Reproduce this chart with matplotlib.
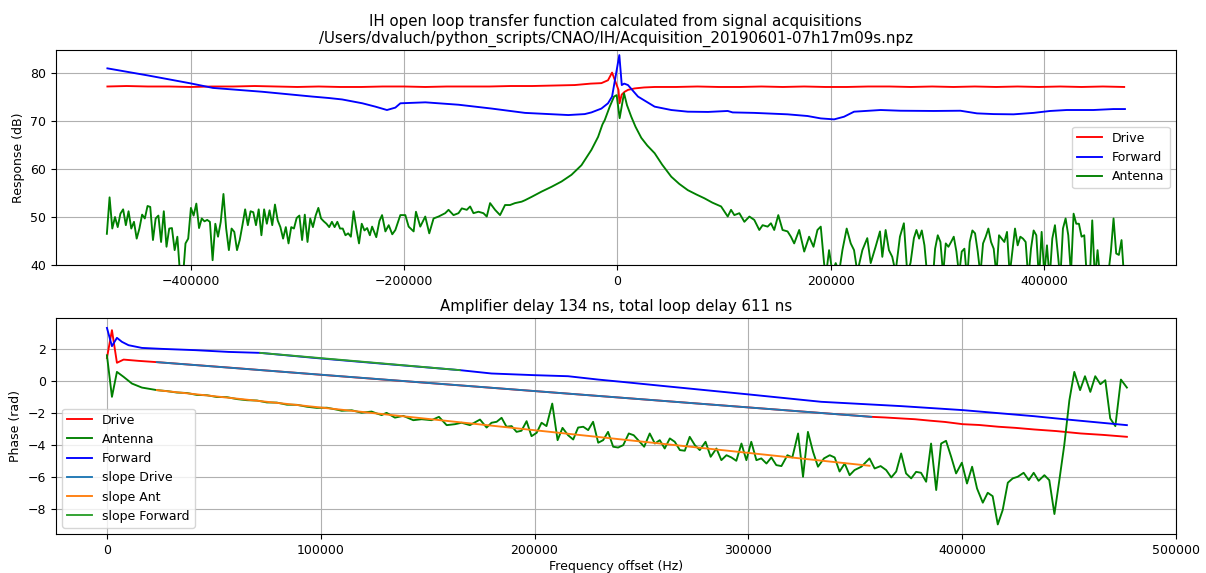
import numpy as np
import matplotlib.pyplot as plt
plt.rcParams['font.size'] = 9
plt.rcParams['axes.titlesize'] = 10.8
plt.rcParams['lines.linewidth'] = 1.35

# ---------------- top panel: response (dB) ----------------
drive_db_f = [-478000, -460000, -440000, -420000, -400000, -380000, -360000, -340000,
              -320000, -300000, -280000, -260000, -240000, -220000, -200000, -180000,
              -160000, -140000, -120000, -100000, -80000, -60000, -40000, -25000,
              -15000, -8800, -5000,
              1000, 2000, 4000, 6800, 10000, 16200, 25000, 35000, 55000, 75000, 95000,
              115000, 135000, 155000, 175000, 195000, 215000, 235000, 255000, 275000,
              295000, 315000, 335000, 355000, 375000, 395000, 415000, 435000, 455000, 475000]
drive_db = [77.2, 77.3, 77.2, 77.2, 77.1, 77.2, 77.2, 77.3,
            77.2, 77.1, 77.2, 77.1, 77.1, 77.2, 77.2, 77.1,
            77.2, 77.2, 77.2, 77.3, 77.3, 77.4, 77.5, 77.8,
            77.9, 78.5, 80.1,
            76.5, 73.7, 75.5, 76.1, 76.5, 76.8, 77.0, 77.1, 77.1, 77.2, 77.1,
            77.1, 77.2, 77.1, 77.2, 77.1, 77.1, 77.2, 77.2, 77.1,
            77.2, 77.1, 77.2, 77.1, 77.2, 77.1, 77.2, 77.1, 77.2, 77.1]

fwd_db_f = [-478000, -440000, -400000, -379000, -332700, -286000, -270500, -258000,
            -239000, -226800, -216000, -208100, -203400, -180000, -148900, -117800,
            -86600, -46000, -30600, -24300, -15000, -8800, -5000,
            1800, 4100, 6400, 9900, 19300, 34900, 50500, 66000, 85000, 103400, 108000,
            128300, 159500, 178200, 190600, 203100, 212400, 221800, 246700, 265400,
            296600, 321500, 337000, 352600, 371300, 390000, 405600, 421200, 446100,
            464800, 475700]
fwd_db = [80.98, 79.5, 77.85, 76.9, 76.1, 75.1, 74.8, 74.5,
          73.7, 73.0, 72.3, 72.8, 73.7, 73.9, 73.4, 72.6,
          71.7, 71.25, 71.45, 71.8, 72.6, 73.7, 75.1,
          83.75, 77.5, 77.8, 77.5, 75.1, 73.0, 72.3, 71.95, 71.9, 72.1, 71.8,
          71.7, 71.4, 71.05, 70.55, 70.35, 70.9, 71.95, 72.3, 72.15,
          72.1, 72.15, 71.6, 71.45, 71.4, 71.7, 72.1, 72.3, 72.3,
          72.5, 72.5]

# antenna, noisy far-left part (uniform bins)
ant_db_left = [46.5, 54.1, 47.6, 50.0, 47.9, 50.7, 51.6, 48.3, 51.2, 47.6, 49.0, 45.5,
               47.6, 50.5, 49.7, 52.3, 52.1, 45.2, 49.7, 50.3, 44.8, 51.2, 43.8, 47.6,
               47.7, 43.1, 45.9, 38.0, 37.0, 44.5, 45.5, 51.9, 50.3, 52.8, 47.7, 49.7,
               49.1, 49.4, 49.0, 41.0, 48.6, 45.9, 49.0, 54.8, 47.6, 43.1, 47.6, 46.9,
               43.1, 45.2, 48.3, 51.6, 48.3, 51.2, 51.0, 48.3, 51.6, 46.2, 51.6, 48.6,
               51.4, 48.3, 52.6, 49.3, 47.9, 45.5, 47.9, 44.5, 47.9, 47.6, 49.8, 50.3,
               45.2, 50.5, 44.8, 49.7, 47.9, 50.3, 51.9, 49.7, 49.1, 48.6, 47.9, 49.0,
               47.9, 49.0, 47.6, 47.6, 46.2, 46.6, 45.9, 51.2, 47.6, 44.5, 48.6, 47.2,
               47.7, 46.2]
ant_left_start, ant_left_stop = -478500, -232000

ant_db_mid_f = [-229900, -226000, -223000, -220570, -217450, -214340, -211000, -208110,
                -203440, -198770, -195650, -190980, -188800, -184750, -180080, -176340,
                -172300, -167620, -161400, -158270, -153600, -148930, -145810, -141140,
                -138020, -134900, -130230, -125560, -122440, -119330, -114660, -109980,
                -105310, -100640, -95970, -89740, -86620, -80390, -71050, -61700,
                -52360, -43020, -33670, -24330, -18100, -14000, -11860, -7190, -3140,
                -700, 2100, 6200,
                9000, 13000, 17000, 22400, 28000, 34900, 42000, 50500, 58000, 66000,
                74000, 81600, 89000, 97200, 103400, 106500, 109600, 114300, 119000,
                123700, 128300, 133000, 136100, 140800, 143900, 147000, 150800, 154800,
                159500, 162600, 165700, 170400, 175100, 179700, 183800, 187500, 190600,
                193700, 195300, 198400, 201500, 204600, 207800, 210900, 214900, 218700,
                221800, 224900, 229600, 234200, 237400, 242000, 246100, 248300, 251400,
                254500, 257600, 260700, 264800, 268500, 271600, 274700, 277900]
ant_db_mid = [48.0, 45.8, 49.2, 50.4, 47.0, 48.3, 46.4, 47.3,
              50.4, 50.4, 48.0, 47.0, 51.1, 48.0, 50.1, 46.6,
              49.7, 50.1, 50.8, 51.5, 50.4, 50.8, 51.8, 51.5,
              52.2, 50.8, 51.1, 50.8, 50.1, 52.9, 51.5, 50.4,
              52.5, 52.5, 52.9, 53.2, 53.5, 54.2, 55.3, 56.3,
              57.4, 58.8, 60.8, 64.0, 66.7, 69.3, 70.2, 73.0, 75.1,
              75.4, 70.6, 75.8,
              73.3, 70.9, 68.8, 66.5, 64.9, 63.3, 60.9, 58.4, 56.9, 55.6,
              54.7, 53.9, 53.0, 52.2, 50.1, 51.5, 50.4, 50.8, 49.0,
              50.1, 49.4, 47.3, 48.3, 48.0, 48.7, 47.3, 50.4, 47.3,
              47.0, 45.9, 44.5, 47.3, 42.8, 45.9, 43.8, 47.3, 48.0,
              40.4, 37.5, 43.1, 38.5, 40.4, 38.5, 43.1, 47.6, 44.5,
              43.1, 38.5, 43.1, 45.6, 40.4, 43.8, 47.0, 41.7, 47.3,
              43.1, 41.7, 38.5, 45.9, 48.7, 38.5, 40.4, 45.6]

ant_db_right = [47.3, 45.5, 47.2, 44.1, 38, 37, 36, 43.4, 46.2, 44.8, 38, 44.5, 43.8,
                44.8, 45.9, 42.8, 38, 42.8, 43.4, 37, 44.8, 47.2, 46.6, 42.8, 38, 44.5,
                45.9, 47.6, 44.8, 43.4, 38, 46.2, 45.5, 44.8, 46.9, 38, 42.8, 47.6, 44.1,
                45.9, 45.5, 44.8, 37, 43.4, 47.2, 46.2, 37, 46.9, 38, 44.1, 37, 45.5,
                48.3, 42.8, 37, 47.6, 49.7, 46.2, 38, 50.7, 48.6, 48.6, 45.9, 46.2, 37,
                36, 49.3, 37, 43.1, 37, 37, 37, 38, 42.8, 49.7, 42.4, 42.1, 45.2, 37]
ant_right_start, ant_right_stop = 280300, 475000

# ---------------- bottom panel: phase (rad) ----------------
drive_ph_f = [0, 2340, 4670, 7790, 14800, 23360, 60000, 100000, 150000, 200000, 250000,
              300000, 340000, 357500, 364000, 371500, 378000, 385000, 392000, 400300,
              408000, 417000, 425000, 433700, 444000, 455500, 466000, 477100]
drive_ph = [1.45, 3.19, 1.15, 1.35, 1.27, 1.19, 0.82, 0.40, -0.11, -0.62, -1.13,
            -1.64, -2.05, -2.23, -2.27, -2.33, -2.38, -2.47, -2.55, -2.69,
            -2.74, -2.85, -2.92, -3.02, -3.12, -3.27, -3.36, -3.48]

fwd_ph_f = [0, 2340, 4670, 7010, 10100, 16350, 25700, 41300, 56900, 71650, 100000,
            130000, 165100, 179900, 200100, 215700, 229800, 240700, 260900, 300300,
            334100, 371500, 400300, 433700, 449300, 477100]
fwd_ph = [3.33, 2.19, 2.71, 2.46, 2.25, 2.08, 2.02, 1.94, 1.83, 1.77, 1.42,
          1.08, 0.69, 0.48, 0.375, 0.31, 0.10, -0.04, -0.31, -0.83,
          -1.29, -1.56, -1.81, -2.19, -2.40, -2.75]

ant_ph_f = [0, 2340, 4670, 7790, 11700, 16350, 23360, 28000, 32700, 37400, 42100,
            46800, 51400, 56100, 60800, 65500, 70200, 74800, 79500, 84200, 88900,
            93600, 98200, 102900, 107500, 109800, 114500, 119100, 123800, 126200,
            128500, 130800, 134700, 138600, 143300, 147200,
            151870, 155300, 158900, 162800, 165900, 169800, 174500, 177600, 179900,
            182300, 184600, 186900, 189300, 191600, 193900, 196300, 198600, 201000,
            203300, 205600, 208300, 210800, 213100, 215700, 218100, 220400, 222800,
            225100, 227400, 229800, 232100, 234400, 236800, 239100, 241500, 244100,
            246400, 248500, 251300, 253900, 256300, 258600, 260900, 263300, 265600,
            268000, 270300, 272600, 275000, 277300, 280000, 282400, 285100, 287400,
            289800, 292100, 294400, 296800, 299100, 301400, 303800, 306100, 308500,
            310800, 313100, 315500, 318300, 320600, 323300, 325600, 327900, 330300,
            332600, 335400, 338100, 340400, 342700, 345100, 347400, 349700, 352900,
            356700, 359100, 361900, 364500, 366900, 369200, 371500, 373800, 376200,
            378500, 380800, 383200, 385500, 387900, 390200, 392500, 394900, 397200,
            399900, 402300, 404700, 407000, 409700, 412000, 414300, 416700, 419000,
            421400, 423700, 426000, 428800, 431200, 433500, 435800, 438500, 440800,
            443200, 445500, 447800, 450200, 452500, 455200, 457500, 460000, 462300,
            464700, 467000, 469300, 471700, 474300, 477100]
ant_ph = [1.62, -0.98, 0.58, 0.27, -0.15, -0.40, -0.56, -0.62, -0.71, -0.74, -0.86,
          -0.88, -0.99, -1.00, -1.12, -1.19, -1.21, -1.33, -1.34, -1.47, -1.48,
          -1.60, -1.67, -1.66, -1.78, -1.85, -1.82, -1.97, -1.90, -2.02,
          -2.12, -1.98, -2.28, -2.17, -2.44, -2.38,
          -2.44, -2.23, -2.75, -2.69, -2.60, -2.75, -2.40, -2.90, -2.60,
          -2.54, -2.29, -2.85, -2.81, -3.17, -3.10, -2.50, -3.44, -3.23,
          -2.60, -2.81, -1.40, -3.69, -2.92, -3.38, -3.65, -2.90, -2.85,
          -3.06, -2.54, -3.85, -3.69, -3.17, -4.10, -4.15, -4.00, -3.27,
          -3.38, -3.69, -4.10, -3.27, -3.90, -3.69, -4.21, -3.58, -3.79,
          -4.31, -4.35, -3.48, -4.00, -4.31, -3.79, -4.73, -4.21, -4.94,
          -4.63, -4.77, -4.98, -3.90, -4.94, -3.79, -4.94, -4.83, -5.15,
          -4.77, -5.25, -5.31, -4.63, -4.77, -3.27, -5.98, -3.17, -4.42,
          -5.35, -4.83, -4.63, -4.77, -5.65, -5.15, -5.88, -5.56, -5.35,
          -4.83, -5.46, -5.31, -5.56, -6.02, -5.65, -4.52, -5.77, -6.08,
          -5.67, -5.73, -6.29, -3.90, -6.81, -3.90, -3.73, -4.73, -5.77,
          -5.10, -6.40, -5.35, -6.71, -7.60, -6.98, -7.19, -8.96, -8.06,
          -6.35, -6.08, -5.98, -5.73, -6.19, -5.73, -6.23, -5.88, -6.19,
          -8.31, -6.19, -4.00, -1.19, 0.58, -0.56, 0.31, -0.67, 0.31,
          -0.19, 0.06, -2.33, -2.81, 0.10, -0.40]

# fitted slopes (end points of each fit)
slope_drive_f, slope_drive = [23360, 357500], [1.19, -2.23]
slope_ant_f, slope_ant = [23360, 356700], [-0.56, -5.29]
slope_fwd_f, slope_fwd = [71650, 165100], [1.77, 0.69]

title_top = ("IH open loop transfer function calculated from signal acquisitions\n"
             "/Users/dvaluch/python_scripts/CNAO/IH/Acquisition_20190601-07h17m09s.npz")
title_bottom = "Amplifier delay 134 ns, total loop delay 611 ns"

fig = plt.figure(figsize=(12.06, 5.73), dpi=100)
ax1 = fig.add_axes([0.0464, 0.5375, 0.9286, 0.3752])
ax2 = fig.add_axes([0.0464, 0.068, 0.9286, 0.377])

ant_db_f = np.concatenate([np.linspace(ant_left_start, ant_left_stop, len(ant_db_left)),
                           ant_db_mid_f,
                           np.linspace(ant_right_start, ant_right_stop, len(ant_db_right))])
ant_db = np.concatenate([ant_db_left, ant_db_mid, ant_db_right])

ax1.plot(drive_db_f, drive_db, color='r', label='Drive')
ax1.plot(fwd_db_f, fwd_db, color='b', label='Forward')
ax1.plot(ant_db_f, ant_db, color='g', label='Antenna')
ax1.set_ylim(40, 84.8)
ax1.set_ylabel('Response (dB)')
ax1.set_title(title_top, pad=5)
ax1.grid(True)
ax1.legend(loc='center right')

ax2.plot(drive_ph_f, drive_ph, color='r', label='Drive')
ax2.plot(ant_ph_f, ant_ph, color='g', label='Antenna')
ax2.plot(fwd_ph_f, fwd_ph, color='b', label='Forward')
ax2.plot(slope_drive_f, slope_drive, color='C0', label='slope Drive')
ax2.plot(slope_ant_f, slope_ant, color='C1', label='slope Ant')
ax2.plot(slope_fwd_f, slope_fwd, color='C2', label='slope Forward')
ax2.set_xlim(-23850, 500000)
ax2.set_ylim(-9.56, 3.95)
ax2.set_xlabel('Frequency offset (Hz)', labelpad=2)
ax2.set_ylabel('Phase (rad)')
ax2.set_title(title_bottom, pad=5)
ax2.grid(True)
ax2.legend(loc='lower left')

fig.savefig('out.png', dpi=100)
